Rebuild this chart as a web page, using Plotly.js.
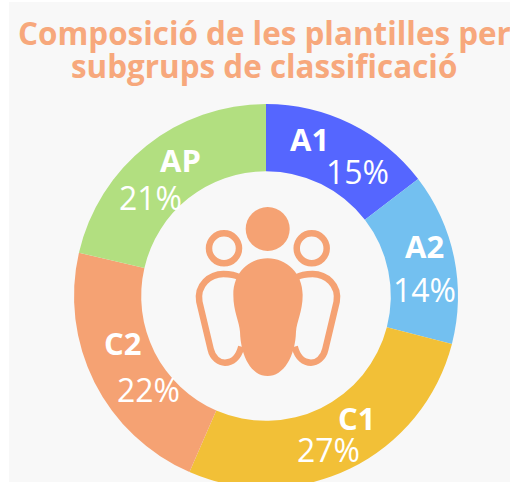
<!DOCTYPE html>
<html><head><meta charset="utf-8">
<script src="https://cdn.plot.ly/plotly-3.0.1.min.js"></script>
<style>html,body{margin:0;padding:0;background:#fff;overflow:hidden;width:510px;height:482px}</style>
</head><body><div id="c"></div>
<script>
const categories = ['A1','A2','C1','C2','AP'];
const sliceValues = [14.5,14.4,27.4,22.0,21.3];
const shareLabels = ['15%','14%','27%','22%','21%'];
const sliceColors = ['#5566FF','#73C0F0','#F2C037','#F5A273','#B2DF80'];
const titleLines = ['Composició de les plantilles per','subgrups de classificació'];

const W=510,H=520,ORANGE='#F5A273';
const px=x=>x/W, py=y=>1-y/H;
const labelPos=[[309,139],[424,246],[356,418],[122,343],[180,160]];
const pctPos=[[357,172],[424,289],[328,449],[148,389],[150,197]];
const ann=[];
categories.forEach((c,i)=>{
  ann.push({text:'<b>'+c+'</b>',x:px(labelPos[i][0]),y:py(labelPos[i][1]),xref:'paper',yref:'paper',showarrow:false,xanchor:'center',yanchor:'middle',font:{family:'Open Sans',size:31,color:'#fff'}});
  ann.push({text:shareLabels[i],x:px(pctPos[i][0]),y:py(pctPos[i][1]),xref:'paper',yref:'paper',showarrow:false,xanchor:'center',yanchor:'middle',font:{family:'Open Sans',size:32,color:'#fff'}});
});
titleLines.forEach((t,i)=>{
  ann.push({text:'<b>'+t+'</b>',x:px(264),y:py(i?65:32),xref:'paper',yref:'paper',showarrow:false,xanchor:'center',yanchor:'middle',font:{family:'Open Sans',size:31.4,color:'#F7A87C'}});
});
const zx=x=>px(180+x/3), zy=y=>py(190+y/3);
const path=(s)=>s.replace(/(-?\d+\.?\d*) (-?\d+\.?\d*)/g,(m,a,b)=>zx(+a)+' '+zy(+b));
const circle=(cx,cy,r,fill,line)=>({type:'circle',xref:'paper',yref:'paper',x0:px(cx-r),x1:px(cx+r),y0:py(cy+r),y1:py(cy-r),fillcolor:fill,line:line});
const body=path('M 263 205 C 205 205 160 250 160 315 C 160 365 178 395 180 425 C 182 500 215 558 263 558 C 310 558 346 500 348 425 C 350 395 368 365 368 315 C 368 250 320 205 263 205 Z');
const armL=path('M 178 262 C 165 254 148 252 130 252 C 90 252 50 285 58 335 L 92 478 C 98 505 118 518 135 518 C 155 518 175 505 184 470');
const armR=path('M 350 262 C 363 254 380 252 398 252 C 438 252 478 285 470 335 L 436 478 C 430 505 410 518 393 518 C 373 518 353 505 344 470');
const stroke={color:ORANGE,width:6.5};
const shapes=[
 {type:'rect',layer:'below',xref:'paper',yref:'paper',x0:px(9),x1:1,y0:0,y1:py(2),fillcolor:'#F8F8F8',line:{width:0}},
 {type:'path',xref:'paper',yref:'paper',path:armL,line:stroke,fillcolor:'rgba(0,0,0,0)'},
 {type:'path',xref:'paper',yref:'paper',path:armR,line:stroke,fillcolor:'rgba(0,0,0,0)'},
 {type:'path',xref:'paper',yref:'paper',path:body,line:{width:0},fillcolor:ORANGE},
 circle(267.7,229,22,ORANGE,{width:0}),
 circle(224,248.3,15,'rgba(0,0,0,0)',stroke),
 circle(311.7,248.3,15,'rgba(0,0,0,0)',stroke)
];
Plotly.newPlot('c',[{type:'pie',labels:categories,values:sliceValues,sort:false,direction:'clockwise',rotation:0,hole:0.65,
  marker:{colors:sliceColors,line:{width:0}},textinfo:'none',hoverinfo:'label+percent',
  domain:{x:[px(74),px(458)],y:[py(488),py(104)]}}],
 {width:W,height:H,margin:{l:0,r:0,t:0,b:0,pad:0},paper_bgcolor:'#fff',showlegend:false,annotations:ann,shapes:shapes},
 {displayModeBar:false,staticPlot:true});
</script></body></html>
